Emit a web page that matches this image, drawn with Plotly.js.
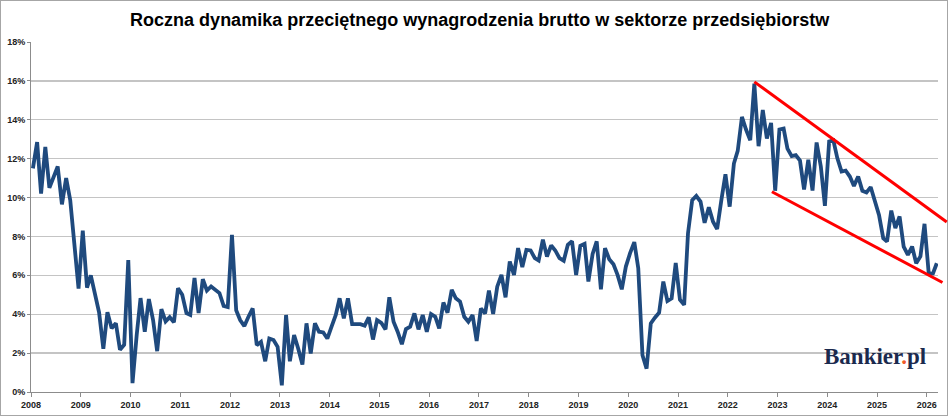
<!DOCTYPE html>
<html>
<head>
<meta charset="utf-8">
<script src="https://cdn.plot.ly/plotly-3.0.1.min.js"></script>
<style>
  body { margin: 0; background: #fff; }
  #chart { width: 948px; height: 416px; outline: 1px solid #a6a6a6; outline-offset: -1px; }
</style>
</head>
<body>
<div id="chart"></div>
<script>
// monthly values, Jan 2008 .. Mar 2026 (annual growth, %)
const y2008 = [11.5, 12.85, 10.2, 12.6, 10.5, 11.05, 11.6, 9.65, 11.0, 9.86, 7.6, 5.32];
const y2009 = [8.3, 5.37, 6.0, 5.08, 4.08, 2.22, 4.1, 3.28, 3.54, 2.17, 2.43, 6.79];
const y2010 = [0.46, 2.95, 4.83, 3.1, 4.78, 3.7, 2.1, 4.26, 3.63, 3.85, 3.58, 5.34];
const y2011 = [5.0, 4.06, 3.97, 5.86, 4.06, 5.8, 5.22, 5.43, 5.26, 5.09, 4.43, 4.37];
const y2012 = [8.08, 4.2, 3.7, 3.39, 3.87, 4.3, 2.41, 2.58, 1.58, 2.75, 2.67, 2.32];
const y2013 = [0.34, 3.96, 1.58, 2.93, 2.24, 1.41, 3.53, 1.98, 3.53, 3.1, 3.06, 2.75];
const y2014 = [3.36, 3.96, 4.82, 3.79, 4.82, 3.49, 3.49, 3.49, 3.41, 3.84, 2.7, 3.7];
const y2015 = [3.56, 3.22, 4.87, 3.61, 3.1, 2.46, 3.24, 3.36, 4.04, 3.22, 3.96, 3.1];
const y2016 = [4.01, 3.87, 3.27, 4.6, 4.08, 5.25, 4.82, 4.65, 3.87, 3.61, 3.96, 2.62];
const y2017 = [4.3, 4.04, 5.22, 4.01, 5.42, 6.02, 4.87, 6.71, 6.02, 7.4, 6.42, 7.31];
const y2018 = [7.28, 6.88, 6.76, 7.83, 6.97, 7.54, 7.28, 6.88, 6.75, 7.57, 7.75, 6.02];
const y2019 = [7.52, 7.62, 5.68, 7.1, 7.75, 5.28, 7.4, 6.83, 6.57, 6.02, 5.28, 6.45];
const y2020 = [7.14, 7.71, 6.37, 1.89, 1.2, 3.53, 3.82, 4.08, 5.68, 4.68, 4.82, 6.63];
const y2021 = [4.75, 4.48, 8.16, 9.87, 10.08, 9.79, 8.7, 9.5, 8.76, 8.38, 9.87, 11.2];
const y2022 = [9.53, 11.75, 12.4, 14.15, 13.5, 12.95, 15.86, 12.64, 14.5, 13.04, 13.84, 10.35];
const y2023 = [13.5, 13.55, 12.52, 12.13, 12.18, 11.9, 10.42, 11.94, 10.36, 12.83, 11.6, 9.57];
const y2024 = [12.88, 12.94, 12.03, 11.34, 11.39, 11.08, 10.6, 11.08, 10.35, 10.26, 10.54, 9.88];
const y2025 = [9.11, 7.91, 7.74, 9.33, 8.43, 9.03, 7.48, 7.05, 7.48, 6.62, 6.97, 8.65];
const y2026 = [6.08, 6.1, 6.62];

const firstYear = 2008;
const years = [y2008, y2009, y2010, y2011, y2012, y2013, y2014, y2015, y2016,
  y2017, y2018, y2019, y2020, y2021, y2022, y2023, y2024, y2025, y2026];

const yTicks = [0, 2, 4, 6, 8, 10, 12, 14, 16, 18];
const xTickYears = [];
for (let y = 2008; y <= 2026; y++) xTickYears.push(y + '-01-01');

// red trend channel drawn on the chart
const upperDates = ['2022-07-15', '2026-05-27'];
const upperValues = [15.95, 8.74];
const lowerDates = ['2022-11-21', '2026-04-26'];
const lowerValues = [10.3, 5.63];

const xRange = ['2008-01-01', '2026-03-24'];
const yRange = [0, 18];

var dates = [], values = [];
years.forEach((arr, i) => {
  arr.forEach((v, m) => {
    var mm = String(m + 1).padStart(2, '0');
    dates.push((firstYear + i) + '-' + mm + '-15');
    values.push(v);
  });
});

// paper coords from axis values, so the channel can run past the plot edge
var t0 = Date.parse(xRange[0]), t1 = Date.parse(xRange[1]);
function px(d) { return (Date.parse(d) - t0) / (t1 - t0); }
function py(v) { return (v - yRange[0]) / (yRange[1] - yRange[0]); }

function channel(ds, vs) {
  return {
    type: 'line', xref: 'paper', yref: 'paper',
    x0: px(ds[0]), y0: py(vs[0]), x1: px(ds[1]), y1: py(vs[1]),
    line: {color: '#ff0000', width: 3}, layer: 'above'
  };
}

var tickFont = {family: 'Liberation Sans, Arial, sans-serif', size: 9, color: '#222'};

var trace = {
  x: dates, y: values,
  mode: 'lines', type: 'scatter',
  line: {color: '#1f4a7e', width: 3.8},
  hoverinfo: 'x+y'
};

var layout = {
  width: 948, height: 416,
  margin: {l: 31, r: 10, t: 42, b: 24},
  paper_bgcolor: 'rgba(0,0,0,0)',
  plot_bgcolor: '#fff',
  showlegend: false,
  title: {
    text: '<b>Roczna dynamika przeciętnego wynagrodzenia brutto w sektorze przedsiębiorstw</b>',
    font: {family: 'Liberation Sans, Arial, sans-serif', size: 18, color: '#000'},
    x: 0.506, xref: 'container', xanchor: 'center',
    y: 0.952, yref: 'container', yanchor: 'middle'
  },
  xaxis: {
    type: 'date', range: xRange,
    tickmode: 'array', tickvals: xTickYears,
    ticktext: xTickYears.map(d => '<b>' + d.slice(0, 4) + '</b>'),
    showgrid: false, zeroline: false,
    showline: true, linecolor: '#8c8c8c', linewidth: 1,
    ticks: 'outside', ticklen: 4, tickcolor: '#8c8c8c',
    tickfont: tickFont
  },
  yaxis: {
    range: yRange, tickmode: 'array', tickvals: yTicks,
    ticktext: yTicks.map(v => '<b>' + v + '%</b>'),
    showgrid: true, gridcolor: '#c4c4c4', gridwidth: 1.3,
    zeroline: false,
    showline: true, linecolor: '#8c8c8c', linewidth: 1,
    ticks: 'outside', ticklen: 3, tickcolor: '#8c8c8c',
    tickfont: tickFont
  },
  shapes: [
    // white box behind the logo
    {type: 'rect', xref: 'paper', yref: 'paper', x0: 0.851, x1: 1.0,
      y0: py(1.05), y1: py(2.45), fillcolor: '#fff', line: {width: 0}, layer: 'between'},
    channel(upperDates, upperValues),
    channel(lowerDates, lowerValues)
  ],
  annotations: [{
    xref: 'paper', yref: 'paper', x: 0.931, y: 0.101,
    xanchor: 'center', yanchor: 'middle', showarrow: false,
    text: '<b>Bankier<span style="color:#f05a28">.</span>pl</b>',
    font: {family: 'Liberation Serif, DejaVu Serif, serif', size: 23, color: '#1b2a4e'}
  }]
};

Plotly.newPlot('chart', [trace], layout, {displayModeBar: false, staticPlot: true});
</script>
</body>
</html>
